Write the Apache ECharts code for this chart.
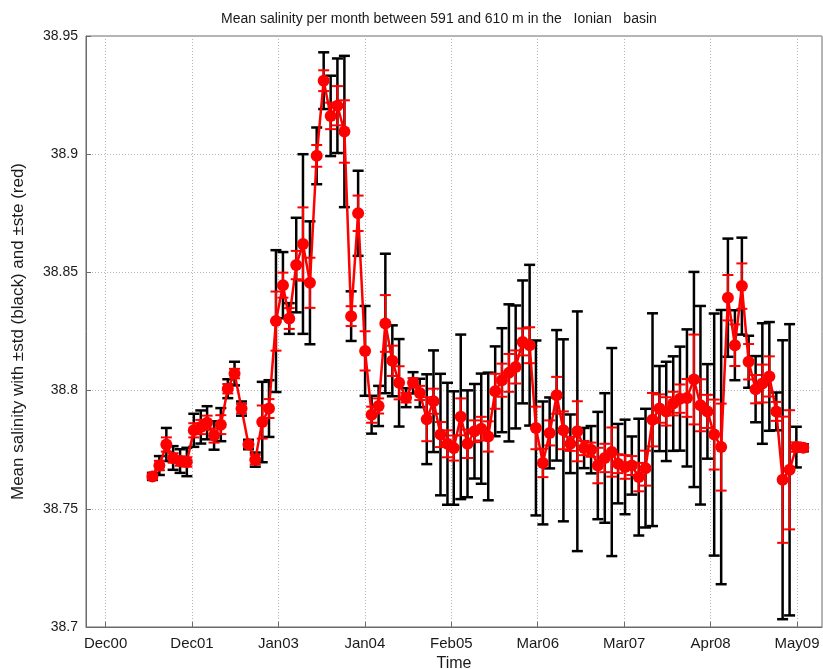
<!DOCTYPE html>
<html>
<head>
<meta charset="utf-8">
<script src="https://cdn.jsdelivr.net/npm/echarts@6/dist/echarts.min.js"></script>
<style>
  html, body { margin: 0; padding: 0; background: #fff; }
  #chart { width: 823px; height: 669px; }
</style>
</head>
<body>
<div id="chart"></div>
<script>
// Monthly mean salinity, 591-610 m, Ionian basin (Jul 2001 - Jun 2009)
const startYear = 2001, startMonth = 7;

const meanSal = [
  38.7637, 38.7683, 38.7772, 38.7715, 38.7702, 38.7698, 38.7832, 38.7846, 38.7864, 38.7810,
  38.7856, 38.8008, 38.8072, 38.7924, 38.7772, 38.7708, 38.7867, 38.7924, 38.8294, 38.8446,
  38.8305, 38.8531, 38.8620, 38.8456, 38.8993, 38.9311, 38.9162, 38.9205, 38.9096, 38.8315,
  38.8750, 38.8168, 38.7898, 38.7935, 38.8284, 38.8126, 38.8033, 38.7970, 38.8033, 38.7990,
  38.7879, 38.7955, 38.7814, 38.7775, 38.7757, 38.7889, 38.7775, 38.7828, 38.7839, 38.7806,
  38.7997, 38.8044, 38.8075, 38.8100, 38.8206, 38.8192, 38.7842, 38.7694, 38.7821, 38.7980,
  38.7832, 38.7775, 38.7828, 38.7757, 38.7750, 38.7683, 38.7715, 38.7740, 38.7691, 38.7677,
  38.7683, 38.7634, 38.7672, 38.7877, 38.7924, 38.7912, 38.7945, 38.7966, 38.7969, 38.8047,
  38.7938, 38.7912, 38.7814, 38.7761, 38.8393, 38.8192, 38.8442, 38.8122, 38.8006, 38.8030,
  38.8060, 38.7912, 38.7623, 38.7665, 38.7761, 38.7758
];

// standard deviation (black bars)
const stdSal = [
  0.0015, 0.004, 0.007, 0.005, 0.005, 0.006, 0.007, 0.007, 0.007, 0.006,
  0.007, 0.004, 0.005, 0.003, 0.002, 0.003, 0.017, 0.012, 0.030, 0.014,
  0.0065, 0.020, 0.038, 0.026, 0.012, 0.012, 0.017, 0.020, 0.032, 0.0105,
  0.018, 0.019, 0.008, 0.0085, 0.0295, 0.015, 0.0185, 0.004, 0.0045, 0.006,
  0.019, 0.0215, 0.0257, 0.0258, 0.024, 0.0348, 0.0226, 0.020, 0.0233, 0.027,
  0.019, 0.022, 0.029, 0.026, 0.026, 0.034, 0.037, 0.026, 0.015, 0.0276,
  0.0385, 0.0124, 0.0507, 0.0085, 0.010, 0.0227, 0.0274, 0.044, 0.0168, 0.020,
  0.0123, 0.0247, 0.0251, 0.045, 0.018, 0.021, 0.020, 0.022, 0.029, 0.0455,
  0.042, 0.020, 0.0512, 0.058, 0.025, 0.0148, 0.0205, 0.011, 0.014, 0.0255,
  0.023, 0.008, 0.059, 0.0616, 0.0086, 0.0015
];

// standard error (red bars)
const steSal = [
  0.001, 0.002, 0.003, 0.002, 0.002, 0.002, 0.003, 0.003, 0.003, 0.003,
  0.004, 0.002, 0.002, 0.002, 0.001, 0.002, 0.007, 0.004, 0.0125, 0.0053,
  0.0044, 0.006, 0.0155, 0.0106, 0.0046, 0.0044, 0.0056, 0.0083, 0.0132, 0.0042,
  0.0075, 0.0083, 0.0034, 0.0032, 0.012, 0.0064, 0.007, 0.002, 0.002, 0.003,
  0.0093, 0.0053, 0.0053, 0.0057, 0.0053, 0.0078, 0.006, 0.0046, 0.005, 0.0064,
  0.0074, 0.007, 0.008, 0.007, 0.0057, 0.0076, 0.009, 0.006, 0.0053, 0.0078,
  0.008, 0.003, 0.0127, 0.003, 0.003, 0.0075, 0.006, 0.0104, 0.004, 0.005,
  0.004, 0.006, 0.0074, 0.0113, 0.006, 0.006, 0.005, 0.006, 0.008, 0.019,
  0.011, 0.007, 0.0148, 0.0184, 0.0096, 0.0088, 0.0096, 0.0075, 0.006, 0.008,
  0.0085, 0.004, 0.0267, 0.0252, 0.002, 0.001
];

// date ticks along the time axis
const tickLabels = ['Dec00', 'Dec01', 'Jan03', 'Jan04', 'Feb05', 'Mar06', 'Mar07', 'Apr08', 'May09'];
const tickStep = 384; // days between date ticks

const DAY = 86400000;
const dayNum = (y, m, d) => Date.UTC(y, m - 1, d) / DAY;
const tick0 = dayNum(2000, 12, 5);
const tickDays = tickLabels.map((_, k) => tick0 + k * tickStep);

// x value of every monthly sample (first day of month)
const sampleDays = meanSal.map((_, i) => {
  const mIdx = startMonth - 1 + i;
  return dayNum(startYear + Math.floor(mIdx / 12), (mIdx % 12) + 1, 1);
});

const lineData = sampleDays.map((d, i) => [d, meanSal[i]]);
const stdData = sampleDays.map((d, i) => [d, meanSal[i] - stdSal[i], meanSal[i] + stdSal[i]]);
const steData = sampleDays.map((d, i) => [d, meanSal[i] - steSal[i], meanSal[i] + steSal[i]]);

function errorBars(color, width, cap) {
  return function (params, api) {
    const x = api.value(0);
    const lo = api.coord([x, api.value(1)]);
    const hi = api.coord([x, api.value(2)]);
    const h = cap / 2;
    const style = { stroke: color, lineWidth: width, fill: null };
    return {
      type: 'group',
      children: [
        { type: 'line', shape: { x1: hi[0], y1: hi[1], x2: lo[0], y2: lo[1] }, style },
        { type: 'line', shape: { x1: hi[0] - h, y1: hi[1], x2: hi[0] + h, y2: hi[1] }, style },
        { type: 'line', shape: { x1: lo[0] - h, y1: lo[1], x2: lo[0] + h, y2: lo[1] }, style }
      ]
    };
  };
}

const font = "'Liberation Sans', Arial, Helvetica, sans-serif";
const chart = echarts.init(document.getElementById('chart'), null, { renderer: 'canvas' });

chart.setOption({
  animation: false,
  backgroundColor: '#ffffff',
  textStyle: { fontFamily: font },
  title: {
    text: 'Mean salinity per month between 591 and 610 m in the   Ionian   basin',
    left: 216,
    top: 7,
    textStyle: { fontFamily: font, fontSize: 14, fontWeight: 'normal', color: '#1a1a1a' }
  },
  grid: {
    left: 86, right: 1, top: 36, bottom: 42,
    outerBoundsMode: 'none',
    containLabel: false,
    show: true, borderColor: '#6b6b6b', borderWidth: 1, backgroundColor: 'transparent'
  },
  xAxis: {
    type: 'value',
    min: tick0 - 87,
    max: tick0 + 3183,
    name: 'Time',
    nameLocation: 'middle',
    nameGap: 27,
    nameTextStyle: { fontFamily: font, fontSize: 16, color: '#1a1a1a' },
    axisLine: { show: true, onZero: false, lineStyle: { color: '#6b6b6b', width: 1 } },
    axisTick: { show: true, inside: true, length: 5, customValues: tickDays, lineStyle: { color: '#6b6b6b' } },
    axisLabel: {
      customValues: tickDays,
      margin: 9,
      fontFamily: font, fontSize: 15, color: '#1a1a1a',
      formatter: (v) => {
        const k = tickDays.indexOf(v);
        return k >= 0 ? tickLabels[k] : '';
      }
    },
    splitLine: { show: true, lineStyle: { color: '#b5b5b5', type: [1, 2], width: 1 } }
  },
  yAxis: {
    type: 'value',
    min: 38.7,
    max: 38.95,
    interval: 0.05,
    name: 'Mean salinity with \u00b1std (black) and \u00b1ste (red)',
    nameLocation: 'middle',
    nameRotate: 90,
    nameGap: 59,
    nameTextStyle: { fontFamily: font, fontSize: 17, color: '#1a1a1a' },
    axisLine: { show: true, lineStyle: { color: '#6b6b6b', width: 1 } },
    axisTick: { show: true, inside: true, length: 5, lineStyle: { color: '#6b6b6b' } },
    axisLabel: {
      margin: 8, fontFamily: font, fontSize: 14, color: '#1a1a1a',
      formatter: (v) => String(+v.toFixed(2))
    },
    splitLine: { show: true, lineStyle: { color: '#b5b5b5', type: [1, 2], width: 1 } }
  },
  series: [
    {
      name: 'std', type: 'custom', data: stdData, z: 2,
      renderItem: errorBars('#000000', 2.5, 11),
      encode: { x: 0, y: [1, 2] }
    },
    {
      name: 'ste', type: 'custom', data: steData, z: 3,
      renderItem: errorBars('#ff0000', 2, 11),
      encode: { x: 0, y: [1, 2] }
    },
    {
      name: 'mean', type: 'line', data: lineData, z: 4,
      symbol: 'circle', symbolSize: 12,
      itemStyle: { color: '#ff0000' },
      lineStyle: { color: '#ff0000', width: 2.5 }
    }
  ]
});
</script>
</body>
</html>
